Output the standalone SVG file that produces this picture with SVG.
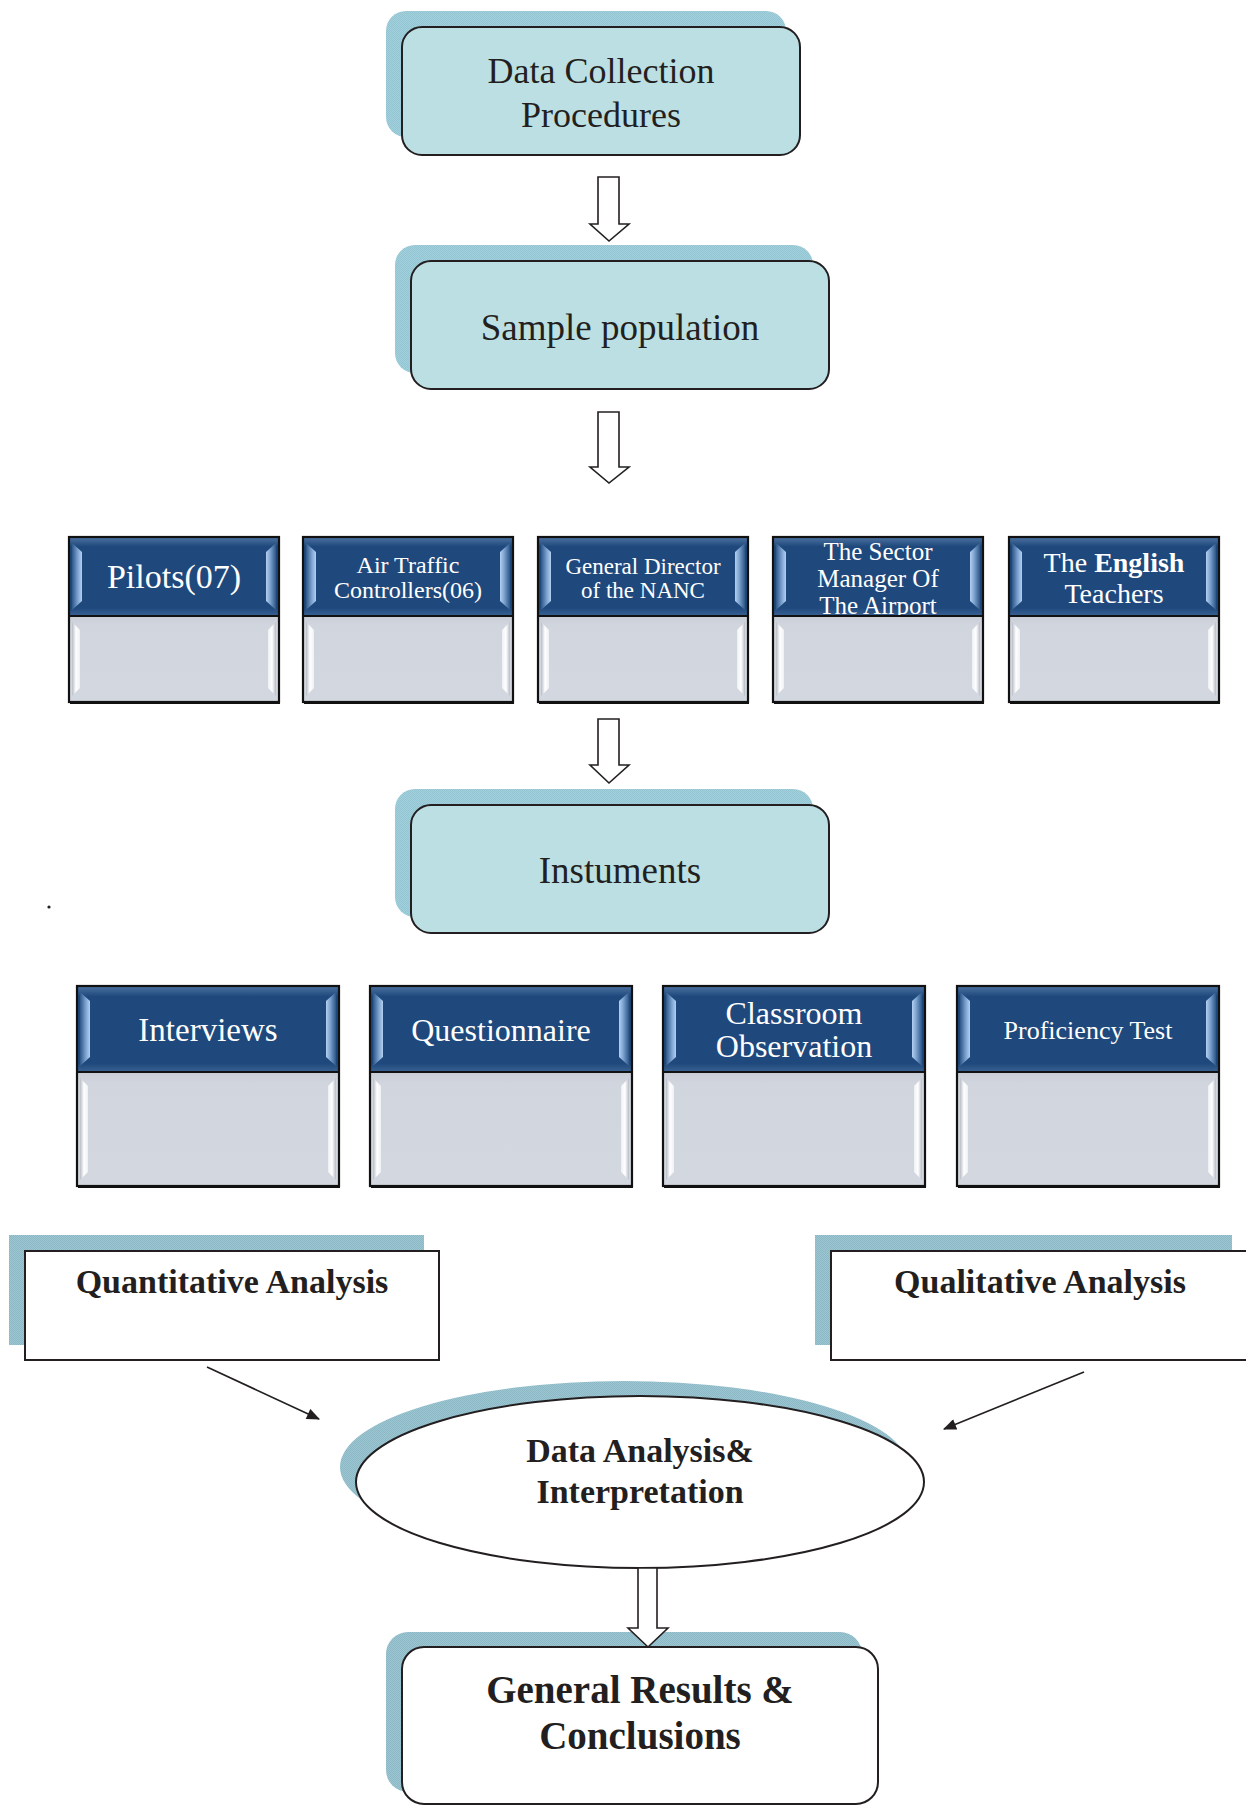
<svg xmlns="http://www.w3.org/2000/svg" xmlns:xlink="http://www.w3.org/1999/xlink" width="1246" height="1805" viewBox="0 0 1246 1805">
  <style>
    .serif { font-family: "Liberation Serif", "Times New Roman", serif; }
    .dark { fill: #231f20; }
    .white { fill: #ffffff; }
    .step { fill: #bcdfe3; stroke: #231f20; stroke-width: 2; }
    .plain { fill: #ffffff; stroke: #231f20; stroke-width: 2; }
    .shadowA { fill: url(#hatchA); }
    .shadowB { fill: url(#hatchB); }
    .block { fill: #ffffff; stroke: #231f20; stroke-width: 1.6; stroke-linejoin: miter; }
    .thin { fill: none; stroke: #231f20; stroke-width: 1.6; }
  </style>
  <defs>
    <!-- fine checker texture used for the offset shadows -->
    <pattern id="hatchA" width="2" height="2" patternUnits="userSpaceOnUse">
      <rect width="2" height="2" fill="#a2d0dc"/>
      <rect width="1" height="1" fill="#93c4d2"/>
      <rect x="1" y="1" width="1" height="1" fill="#93c4d2"/>
    </pattern>
    <pattern id="hatchB" width="2" height="2" patternUnits="userSpaceOnUse">
      <rect width="2" height="2" fill="#9cc6d2"/>
      <rect width="1" height="1" fill="#8cb8c6"/>
      <rect x="1" y="1" width="1" height="1" fill="#8cb8c6"/>
    </pattern>
    <linearGradient id="hdrFill" x1="0" y1="0" x2="0" y2="1">
      <stop offset="0" stop-color="#4d73a2"/>
      <stop offset="0.12" stop-color="#1f497d"/>
      <stop offset="0.9" stop-color="#1f497d"/>
      <stop offset="1" stop-color="#3a6192"/>
    </linearGradient>
    <linearGradient id="bevelL" x1="0" y1="0" x2="1" y2="0">
      <stop offset="0" stop-color="#2b5687"/>
      <stop offset="0.6" stop-color="#7fa5d2"/>
      <stop offset="1" stop-color="#b4cff0"/>
    </linearGradient>
    <linearGradient id="bevelR" x1="1" y1="0" x2="0" y2="0">
      <stop offset="0" stop-color="#2b5687"/>
      <stop offset="0.6" stop-color="#7fa5d2"/>
      <stop offset="1" stop-color="#b4cff0"/>
    </linearGradient>
    <linearGradient id="bodyFill" x1="0" y1="0" x2="0" y2="1">
      <stop offset="0" stop-color="#c9cdd6"/>
      <stop offset="0.1" stop-color="#d1d5dd"/>
      <stop offset="1" stop-color="#d3d7df"/>
    </linearGradient>
    <linearGradient id="shineL" x1="0" y1="0" x2="1" y2="0">
      <stop offset="0" stop-color="#b8bcc6"/>
      <stop offset="0.5" stop-color="#ffffff"/>
      <stop offset="1" stop-color="#eef0f4"/>
    </linearGradient>
    <linearGradient id="shineR" x1="1" y1="0" x2="0" y2="0">
      <stop offset="0" stop-color="#b8bcc6"/>
      <stop offset="0.5" stop-color="#ffffff"/>
      <stop offset="1" stop-color="#eef0f4"/>
    </linearGradient>

    <!-- small card (first row): header 79 high, body 86 high, 210 wide -->
    <g id="headA">
      <rect x="0" y="537" width="210" height="79" fill="url(#hdrFill)"/>
      <polygon points="3,543 13,552 13,601 3,610" fill="url(#bevelL)"/>
      <polygon points="207,543 197,552 197,601 207,610" fill="url(#bevelR)"/>
    </g>
    <g id="bodyA">
      <rect x="0" y="616" width="210" height="86" fill="url(#bodyFill)"/>
      <polygon points="3,622 11,630 11,688 3,696" fill="url(#shineL)"/>
      <polygon points="207,622 199,630 199,688 207,696" fill="url(#shineR)"/>
      <rect x="0" y="537" width="210" height="165" fill="none" stroke="#111" stroke-width="2.2"/>
      <line x1="0" y1="616" x2="210" y2="616" stroke="#111" stroke-width="2.2"/>
      <line x1="1" y1="703" x2="211" y2="703" stroke="#111" stroke-width="2"/>
    </g>

    <!-- large card (second row): header 86 high, body 114 high, 262 wide -->
    <g id="headB">
      <rect x="0" y="986" width="262" height="86" fill="url(#hdrFill)"/>
      <polygon points="3,992 13,1001 13,1057 3,1066" fill="url(#bevelL)"/>
      <polygon points="259,992 249,1001 249,1057 259,1066" fill="url(#bevelR)"/>
    </g>
    <g id="bodyB">
      <rect x="0" y="1072" width="262" height="114" fill="url(#bodyFill)"/>
      <polygon points="3,1078 11,1086 11,1172 3,1180" fill="url(#shineL)"/>
      <polygon points="259,1078 251,1086 251,1172 259,1180" fill="url(#shineR)"/>
      <rect x="0" y="986" width="262" height="200" fill="none" stroke="#111" stroke-width="2.2"/>
      <line x1="0" y1="1072" x2="262" y2="1072" stroke="#111" stroke-width="2.2"/>
      <line x1="1" y1="1187" x2="263" y2="1187" stroke="#111" stroke-width="2"/>
    </g>

    <marker id="tip" viewBox="0 0 12 10" refX="11" refY="5" markerWidth="14" markerHeight="11" markerUnits="userSpaceOnUse" orient="auto">
      <path d="M0,0 L12,5 L0,10 z" fill="#231f20"/>
    </marker>
  </defs>

  <rect width="1246" height="1805" fill="#ffffff"/>

  <!-- process steps -->
  <g id="data-collection">
    <rect class="shadowA" x="386" y="11" width="400" height="126" rx="20"/>
    <rect class="step" x="402" y="27" width="398" height="128" rx="20"/>
    <text class="serif dark" font-size="36" text-anchor="middle" x="601" y="83">Data Collection</text>
    <text class="serif dark" font-size="36" text-anchor="middle" x="601" y="127">Procedures</text>
  </g>

  <g id="sample-population">
    <rect class="shadowA" x="395" y="245" width="418" height="128" rx="20"/>
    <rect class="step" x="411" y="261" width="418" height="128" rx="20"/>
    <text class="serif dark" font-size="37" text-anchor="middle" x="620" y="340">Sample population</text>
  </g>

  <g id="pilots">
    <use href="#headA" x="69"/>
    <text class="serif white" font-size="34" text-anchor="middle" x="174" y="588">Pilots(07)</text>
    <use href="#bodyA" x="69"/>
  </g>
  <g id="controllers">
    <use href="#headA" x="303"/>
    <text class="serif white" font-size="24" text-anchor="middle" x="408" y="573">Air Traffic</text>
    <text class="serif white" font-size="24" text-anchor="middle" x="408" y="598">Controllers(06)</text>
    <use href="#bodyA" x="303"/>
  </g>
  <g id="director">
    <use href="#headA" x="538"/>
    <text class="serif white" font-size="23" text-anchor="middle" x="643" y="574">General Director</text>
    <text class="serif white" font-size="23" text-anchor="middle" x="643" y="598">of the NANC</text>
    <use href="#bodyA" x="538"/>
  </g>
  <g id="sector-manager">
    <use href="#headA" x="773"/>
    <text class="serif white" font-size="25" text-anchor="middle" x="878" y="560">The Sector</text>
    <text class="serif white" font-size="25" text-anchor="middle" x="878" y="587">Manager Of</text>
    <text class="serif white" font-size="25" text-anchor="middle" x="878" y="614">The Airport</text>
    <use href="#bodyA" x="773"/>
  </g>
  <g id="teachers">
    <use href="#headA" x="1009"/>
    <text class="serif white" font-size="28" text-anchor="middle" x="1114" y="572">The <tspan font-weight="bold">English</tspan></text>
    <text class="serif white" font-size="28" text-anchor="middle" x="1114" y="603">Teachers</text>
    <use href="#bodyA" x="1009"/>
  </g>

  <g id="instruments">
    <rect class="shadowA" x="395" y="789" width="418" height="128" rx="20"/>
    <rect class="step" x="411" y="805" width="418" height="128" rx="20"/>
    <text class="serif dark" font-size="37" text-anchor="middle" x="620" y="883">Instuments</text>
  </g>

  <g id="stray-dot">
    <circle cx="49" cy="907" r="1.6" fill="#231f20"/>
  </g>

  <g id="interviews">
    <use href="#headB" x="77"/>
    <text class="serif white" font-size="33" text-anchor="middle" x="208" y="1041">Interviews</text>
    <use href="#bodyB" x="77"/>
  </g>
  <g id="questionnaire">
    <use href="#headB" x="370"/>
    <text class="serif white" font-size="32" text-anchor="middle" x="501" y="1041">Questionnaire</text>
    <use href="#bodyB" x="370"/>
  </g>
  <g id="observation">
    <use href="#headB" x="663"/>
    <text class="serif white" font-size="32" text-anchor="middle" x="794" y="1024">Classroom</text>
    <text class="serif white" font-size="32" text-anchor="middle" x="794" y="1057">Observation</text>
    <use href="#bodyB" x="663"/>
  </g>
  <g id="proficiency-test">
    <use href="#headB" x="957"/>
    <text class="serif white" font-size="26" text-anchor="middle" x="1088" y="1039">Proficiency Test</text>
    <use href="#bodyB" x="957"/>
  </g>

  <g id="quantitative">
    <rect class="shadowB" x="9" y="1235" width="415" height="110"/>
    <rect class="plain" x="25" y="1251" width="414" height="109"/>
    <text class="serif dark" font-size="34" font-weight="bold" text-anchor="middle" x="232" y="1293">Quantitative Analysis</text>
  </g>
  <g id="qualitative">
    <rect class="shadowB" x="815" y="1235" width="417" height="110"/>
    <rect class="plain" x="831" y="1251" width="420" height="109"/>
    <text class="serif dark" font-size="34" font-weight="bold" text-anchor="middle" x="1040" y="1293">Qualitative Analysis</text>
  </g>

  <g id="analysis">
    <ellipse class="shadowB" cx="624" cy="1467" rx="284" ry="86"/>
    <ellipse class="plain" cx="640" cy="1482" rx="284" ry="86"/>
    <text class="serif dark" font-size="34" font-weight="bold" text-anchor="middle" x="640" y="1462">Data Analysis&amp;</text>
    <text class="serif dark" font-size="34" font-weight="bold" text-anchor="middle" x="640" y="1503">Interpretation</text>
  </g>

  <g id="results">
    <rect class="shadowB" x="386" y="1632" width="476" height="160" rx="22"/>
    <rect class="plain" x="402" y="1647" width="476" height="157" rx="22"/>
    <text class="serif dark" font-size="39" font-weight="bold" text-anchor="middle" x="640" y="1703">General Results &amp;</text>
    <text class="serif dark" font-size="39" font-weight="bold" text-anchor="middle" x="640" y="1749">Conclusions</text>
  </g>

  <!-- connectors -->
  <g id="connectors">
    <polygon class="block" points="598,177 619,177 619,224 629,224 609,241 590,224 598,224"/>
    <polygon class="block" points="598,412 619,412 619,467 629,467 609,483 590,467 598,467"/>
    <polygon class="block" points="598,719 619,719 619,765 629,765 609,783 590,765 598,765"/>
    <polygon class="block" points="638,1568 657,1568 657,1628 668,1628 648,1647 628,1628 638,1628"/>
    <line class="thin" x1="207" y1="1367" x2="319" y2="1419" marker-end="url(#tip)"/>
    <line class="thin" x1="1084" y1="1372" x2="944" y2="1429" marker-end="url(#tip)"/>
  </g>
</svg>
